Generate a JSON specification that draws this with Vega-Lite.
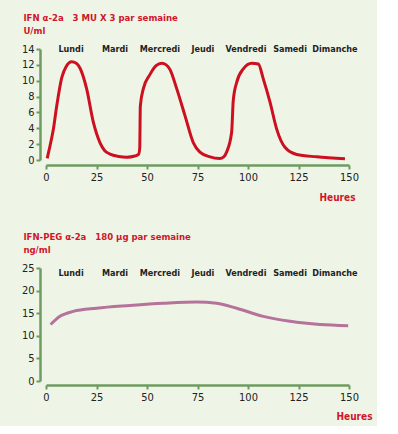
{
  "$schema": "https://vega.github.io/schema/vega-lite/v6.json",
  "background": "#eef5e7",
  "padding": {"left": 21, "top": 13, "right": 5, "bottom": 5},
  "config": {
    "font": "DejaVu Sans Condensed",
    "view": {"stroke": null},
    "concat": {"spacing": 30},
    "axis": {
      "grid": false,
      "domainColor": "#6e9b5f",
      "tickColor": "#6e9b5f",
      "domainWidth": 2.5,
      "tickWidth": 2,
      "tickSize": 4,
      "labelColor": "#222222",
      "labelFontSize": 11,
      "labelFont": "DejaVu Sans Condensed",
      "labelOverlap": false,
      "labelFlush": false,
      "titleColor": "#d0152a",
      "titleFont": "DejaVu Sans Condensed",
      "titleFontSize": 10,
      "titleFontWeight": "bold"
    },
    "title": {
      "anchor": "start",
      "dx": 2,
      "color": "#d0152a",
      "fontSize": 9.5,
      "fontWeight": "bold",
      "subtitleColor": "#d0152a",
      "subtitleFontSize": 9.5,
      "subtitleFontWeight": "bold",
      "subtitlePadding": 3,
      "offset": 8
    }
  },
  "datasets": {
    "top": [
      {"h": 0.6, "v": 0.2}, {"h": 2, "v": 1.8}, {"h": 3.6, "v": 3.8}, {"h": 5.3, "v": 6.8},
      {"h": 7.8, "v": 10.4}, {"h": 10, "v": 11.8}, {"h": 12.7, "v": 12.4}, {"h": 15, "v": 12.2},
      {"h": 16.8, "v": 11.6}, {"h": 20.1, "v": 9.0}, {"h": 23.4, "v": 4.8}, {"h": 26.7, "v": 2.2},
      {"h": 29, "v": 1.2}, {"h": 31.7, "v": 0.75}, {"h": 36, "v": 0.45}, {"h": 40, "v": 0.35},
      {"h": 44, "v": 0.5}, {"h": 45.8, "v": 0.7}, {"h": 46.4, "v": 1.5}, {"h": 46.7, "v": 6.8},
      {"h": 48.2, "v": 9.0}, {"h": 51.5, "v": 10.8}, {"h": 54.5, "v": 11.9}, {"h": 57.3, "v": 12.2},
      {"h": 59.5, "v": 12.0}, {"h": 61.4, "v": 11.4}, {"h": 64.7, "v": 9.0}, {"h": 68.8, "v": 5.6},
      {"h": 72.9, "v": 2.2}, {"h": 76.2, "v": 1.0}, {"h": 81.2, "v": 0.4}, {"h": 86, "v": 0.2},
      {"h": 88, "v": 0.4}, {"h": 89.4, "v": 1.0}, {"h": 91.9, "v": 3.5}, {"h": 92.7, "v": 7.5},
      {"h": 94.4, "v": 9.8}, {"h": 97.7, "v": 11.5}, {"h": 101.8, "v": 12.2}, {"h": 105.1, "v": 12.1},
      {"h": 107.6, "v": 10.2}, {"h": 110.9, "v": 7.3}, {"h": 114.2, "v": 3.9}, {"h": 118.3, "v": 1.6},
      {"h": 124.1, "v": 0.7}, {"h": 134, "v": 0.4}, {"h": 148, "v": 0.15}
    ],
    "bottom": [
      {"h": 2.3, "v": 12.5}, {"h": 6.9, "v": 14.3}, {"h": 13.5, "v": 15.4}, {"h": 25.1, "v": 16.1},
      {"h": 41.6, "v": 16.7}, {"h": 58.1, "v": 17.2}, {"h": 74.6, "v": 17.5}, {"h": 84.5, "v": 17.2},
      {"h": 94.4, "v": 16.1}, {"h": 107.6, "v": 14.3}, {"h": 120.8, "v": 13.2}, {"h": 135.6, "v": 12.5},
      {"h": 149.6, "v": 12.25}
    ],
    "days": [
      {"jour": "Lundi", "h": 12.4}, {"jour": "Mardi", "h": 34.2}, {"jour": "Mercredi", "h": 56.4},
      {"jour": "Jeudi", "h": 77.7}, {"jour": "Vendredi", "h": 99}, {"jour": "Samedi", "h": 120.8},
      {"jour": "Dimanche", "h": 143}
    ]
  },
  "vconcat": [
    {
      "width": 303,
      "height": 111,
      "title": {"text": "IFN α-2a\u00a0\u00a0 3 MU X 3 par semaine", "subtitle": "U/ml"},
      "layer": [
        {
          "data": {"name": "top"},
          "mark": {"type": "line", "color": "#cc1020", "strokeWidth": 3, "interpolate": "monotone"},
          "encoding": {
            "x": {"field": "h", "type": "quantitative", "scale": {"domain": [0, 150], "nice": false},
                  "axis": {"values": [0, 25, 50, 75, 100, 125, 150], "offset": 5, "title": "Heures",
                           "titleAnchor": "end", "titleAlign": "right", "titleX": 309, "titleY": 27}},
            "y": {"field": "v", "type": "quantitative", "scale": {"domain": [0, 14], "nice": false},
                  "axis": {"values": [0, 2, 4, 6, 8, 10, 12, 14], "offset": 6, "title": null}}
          }
        },
        {
          "data": {"name": "days"},
          "mark": {"type": "text", "fontWeight": "bold", "fontSize": 9, "color": "#222222"},
          "encoding": {
            "x": {"field": "h", "type": "quantitative",
                  "axis": {"values": [0, 25, 50, 75, 100, 125, 150], "offset": 5, "title": "Heures",
                           "titleAnchor": "end", "titleAlign": "right", "titleX": 309, "titleY": 27}},
            "y": {"datum": 14, "type": "quantitative",
                  "axis": {"values": [0, 2, 4, 6, 8, 10, 12, 14], "offset": 6, "title": null}},
            "text": {"field": "jour"}
          }
        }
      ]
    },
    {
      "width": 303,
      "height": 113,
      "title": {"text": "IFN-PEG α-2a\u00a0\u00a0 180 µg par semaine", "subtitle": "ng/ml"},
      "layer": [
        {
          "data": {"name": "bottom"},
          "mark": {"type": "line", "color": "#b5729a", "strokeWidth": 3, "interpolate": "monotone"},
          "encoding": {
            "x": {"field": "h", "type": "quantitative", "scale": {"domain": [0, 150], "nice": false},
                  "axis": {"values": [0, 25, 50, 75, 100, 125, 150], "offset": 4, "title": "Heures",
                           "titleAnchor": "end", "titleAlign": "right", "titleX": 326, "titleY": 26}},
            "y": {"field": "v", "type": "quantitative", "scale": {"domain": [0, 25], "nice": false},
                  "axis": {"values": [0, 5, 10, 15, 20, 25], "offset": 6, "title": null}}
          }
        },
        {
          "data": {"name": "days"},
          "mark": {"type": "text", "fontWeight": "bold", "fontSize": 9, "color": "#222222"},
          "encoding": {
            "x": {"field": "h", "type": "quantitative",
                  "axis": {"values": [0, 25, 50, 75, 100, 125, 150], "offset": 4, "title": "Heures",
                           "titleAnchor": "end", "titleAlign": "right", "titleX": 326, "titleY": 26}},
            "y": {"datum": 24, "type": "quantitative",
                  "axis": {"values": [0, 5, 10, 15, 20, 25], "offset": 6, "title": null}},
            "text": {"field": "jour"}
          }
        }
      ]
    }
  ]
}
